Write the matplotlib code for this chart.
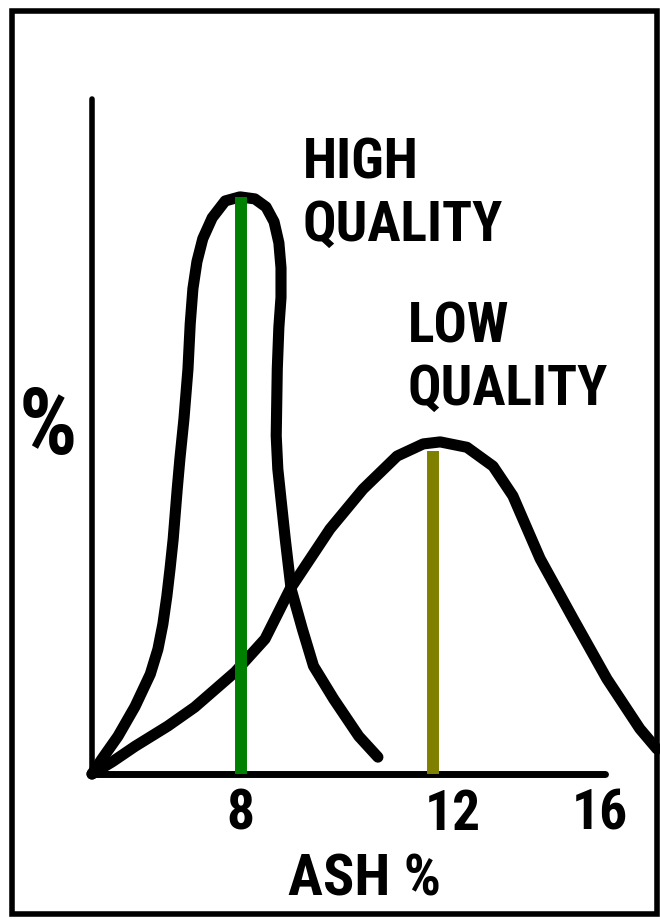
import numpy as np
import matplotlib
matplotlib.use("Agg")
import matplotlib.pyplot as plt
from matplotlib import font_manager
from matplotlib.patches import Rectangle

# hand drawn curves (ash %, relative %)
high_x = [4.70, 4.92, 5.28, 5.66, 6.00, 6.17, 6.28, 6.37, 6.44, 6.51, 6.60, 6.66, 6.75,
          6.84, 6.89, 6.95, 7.04, 7.17, 7.38, 7.67, 8.00, 8.28, 8.49, 8.64, 8.73, 8.77,
          8.77, 8.73, 8.70, 8.68, 8.71, 8.77, 8.85, 8.96, 9.17, 9.38, 9.76, 10.23, 10.59]
high_y = [0.0, 2.2, 5.6, 10.0, 14.8, 18.5, 22.2, 26.4, 30.4, 34.8, 42.2, 46.7, 52.6,
          60.0, 66.7, 71.9, 75.9, 79.3, 82.4, 84.9, 85.5, 85.2, 84.0, 81.8, 78.7, 75.0,
          70.6, 66.2, 60.0, 50.1, 45.2, 40.7, 34.8, 27.4, 21.5, 16.0, 11.1, 5.6, 2.5]

low_x = [4.70, 5.15, 5.66, 6.39, 6.99, 7.89, 8.47, 8.94, 9.69, 10.31, 10.95, 11.44,
         11.76, 12.38, 13.09, 13.63, 13.82, 14.37, 15.27, 16.16, 16.93, 17.33]
low_y = [0.0, 1.8, 4.1, 7.1, 9.9, 15.1, 20.0, 27.4, 36.3, 42.2, 47.1, 48.9,
         49.2, 48.4, 45.6, 41.2, 38.8, 31.9, 23.0, 14.1, 6.7, 3.7]

# peak markers
peak_x = [8.02, 11.62]
peak_y = [85.5, 47.9]
peak_colors = ['#008000', '#808000']

tick_vals = [8, 12, 16]
tick_labels = ['8', '12', '16']

# the sketch axis is not evenly spaced, so follow the drawn tick spacing
axis_vals = [4.7, 8.0, 12.0, 16.0, 17.4]
axis_pos = [0.0, 148.0, 361.0, 508.0, 568.0]


def fwd(x):
    return np.interp(x, axis_vals, axis_pos)


def inv(p):
    return np.interp(p, axis_pos, axis_vals)


# pick a narrow sans if one is installed
names = {f.name for f in font_manager.fontManager.ttflist}
font = 'DejaVu Sans'
for cand in ['Roboto Condensed', 'Liberation Sans Narrow', 'Open Sans Condensed']:
    if cand in names:
        font = cand
        break
plt.rcParams['font.family'] = [font, 'DejaVu Sans']

fig = plt.figure(figsize=(6.6, 9.2), dpi=100)
ax = fig.add_axes([92 / 660, 145 / 920, 568 / 660, 675 / 920])
ax.set_xscale('function', functions=(fwd, inv))
ax.set_xlim(4.7, 17.4)
ax.set_ylim(0, 100)

for xs, ys in [(high_x, high_y), (low_x, low_y)]:
    ax.plot(xs, ys, color='black', lw=8, solid_capstyle='round',
            solid_joinstyle='round', clip_on=False, zorder=3)

for px, py, c in zip(peak_x, peak_y, peak_colors):
    ax.plot([px, px], [0, py], color=c, lw=8.6, solid_capstyle='butt', zorder=4)

for s in ['top', 'right']:
    ax.spines[s].set_visible(False)
ax.spines['left'].set_bounds(0, 100)
ax.spines['left'].set_linewidth(4)
ax.spines['bottom'].set_bounds(4.7, 16.12)
ax.spines['bottom'].set_linewidth(5)
ax.spines['left'].set_capstyle('round')
ax.spines['bottom'].set_capstyle('round')

ax.set_yticks([])
ax.set_xticks(tick_vals)
ax.set_xticklabels(tick_labels, fontsize=40, fontweight='bold')
ax.tick_params(axis='x', which='major', length=0, pad=10)
ax.set_xticks([16], minor=True)
ax.tick_params(axis='x', which='minor', direction='in', length=9, width=4)

ax.set_xlabel('ASH %', fontsize=42, fontweight='bold', va='center')
ax.xaxis.set_label_coords(0.48, -0.156)
ax.set_ylabel('%', fontsize=66, fontweight='bold', rotation=0, va='center', ha='center')
ax.yaxis.set_label_coords(-0.077, 0.514)

ax.text(9.18, 94.4, 'HIGH\nQUALITY', fontsize=40, fontweight='bold', ha='left', va='top',
        linespacing=1.25)
ax.text(11.15, 70.1, 'LOW\nQUALITY', fontsize=40, fontweight='bold', ha='left', va='top',
        linespacing=1.25)

fig.patches.append(Rectangle((12 / 660, 5 / 920), 645 / 660, 903 / 920,
                             transform=fig.transFigure, fill=False, lw=4,
                             edgecolor='black'))

fig.savefig('out.png', dpi=100)
